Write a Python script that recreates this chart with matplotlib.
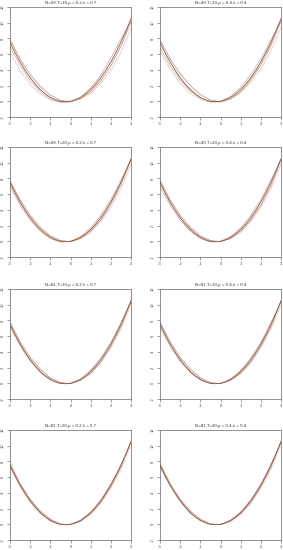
import matplotlib
matplotlib.use("Agg")
import matplotlib.pyplot as plt

plt.rcParams['font.family'] = ['Liberation Sans', 'DejaVu Sans']

titles = [
    "N=49,T=10,\u03c1 = 0.2,\u03bb = 0.7", "N=49,T=10,\u03c1 = 0.4,\u03bb = 0.4",
    "N=49,T=20,\u03c1 = 0.2,\u03bb = 0.7", "N=49,T=20,\u03c1 = 0.4,\u03bb = 0.4",
    "N=81,T=10,\u03c1 = 0.2,\u03bb = 0.7", "N=81,T=10,\u03c1 = 0.4,\u03bb = 0.4",
    "N=81,T=20,\u03c1 = 0.2,\u03bb = 0.7", "N=81,T=20,\u03c1 = 0.4,\u03bb = 0.4",
]

x_true = [-3, -2.75, -2.5, -2.25, -2, -1.75, -1.5, -1.25, -1, -0.75, -0.5, -0.25,
          0, 0.25, 0.5, 0.75, 1, 1.25, 1.5, 1.75, 2, 2.25, 2.5, 2.75, 3]
y_true = [7.5, 6.19, 5.0, 3.94, 3.0, 2.19, 1.5, 0.94, 0.5, 0.19, 0.0, -0.06,
          0.0, 0.19, 0.5, 0.94, 1.5, 2.19, 3.0, 3.94, 5.0, 6.19, 7.5, 8.94, 10.5]

x_est = [-3, -2.5, -2, -1.5, -1, -0.5, 0, 0.5, 1, 1.5, 2, 2.5, 3]

est_a = [
    [7.9, 5.4, 3.4, 1.9, 0.8, 0.1, -0.05, 0.35, 1.2, 2.6, 4.5, 7.0, 10.1],
    [7.8, 5.4, 3.5, 2.0, 0.85, 0.15, -0.05, 0.3, 1.2, 2.7, 4.6, 7.1, 10.2],
    [7.7, 5.3, 3.3, 1.8, 0.7, 0.1, -0.05, 0.4, 1.3, 2.7, 4.7, 7.2, 10.3],
    [7.8, 5.3, 3.3, 1.8, 0.7, 0.1, -0.05, 0.4, 1.3, 2.7, 4.6, 7.1, 10.3],
    [7.8, 5.3, 3.3, 1.8, 0.7, 0.1, -0.05, 0.4, 1.3, 2.7, 4.7, 7.2, 10.4],
    [7.8, 5.3, 3.3, 1.8, 0.7, 0.1, -0.05, 0.4, 1.3, 2.7, 4.7, 7.2, 10.4],
    [7.8, 5.2, 3.2, 1.7, 0.65, 0.05, -0.05, 0.4, 1.35, 2.8, 4.8, 7.3, 10.6],
    [7.8, 5.2, 3.2, 1.7, 0.65, 0.05, -0.05, 0.4, 1.35, 2.8, 4.8, 7.3, 10.6],
]
est_b = [
    [6.9, 4.6, 2.6, 1.2, 0.3, -0.1, -0.05, 0.5, 1.7, 3.3, 5.5, 7.9, 10.3],
    [6.9, 4.5, 2.7, 1.3, 0.4, -0.05, 0.0, 0.6, 1.8, 3.4, 5.4, 7.8, 10.2],
    [7.0, 4.6, 2.7, 1.3, 0.35, -0.1, 0.0, 0.6, 1.7, 3.3, 5.3, 7.8, 10.4],
    [6.9, 4.6, 2.7, 1.3, 0.35, -0.1, 0.0, 0.6, 1.7, 3.3, 5.3, 7.8, 10.4],
    [7.2, 4.8, 2.8, 1.4, 0.4, -0.05, 0.0, 0.55, 1.65, 3.2, 5.2, 7.7, 10.5],
    [7.1, 4.7, 2.8, 1.4, 0.4, -0.05, 0.0, 0.55, 1.65, 3.2, 5.2, 7.7, 10.4],
    [7.3, 4.8, 2.8, 1.4, 0.4, -0.05, 0.0, 0.5, 1.55, 3.1, 5.1, 7.6, 10.4],
    [7.3, 4.9, 2.9, 1.4, 0.45, 0.0, 0.0, 0.5, 1.55, 3.1, 5.1, 7.6, 10.4],
]
est_c = [
    [6.3, 3.9, 2.1, 0.9, 0.2, -0.15, -0.1, 0.3, 1.0, 2.3, 3.9, 6.2, 9.3],
    [6.4, 4.1, 2.3, 1.0, 0.25, -0.1, -0.1, 0.3, 1.1, 2.4, 4.1, 6.4, 9.4],
    [7.2, 4.9, 3.0, 1.6, 0.55, 0.0, -0.05, 0.3, 1.1, 2.5, 4.3, 6.7, 9.7],
    [7.3, 4.9, 3.0, 1.6, 0.55, 0.0, -0.05, 0.3, 1.1, 2.5, 4.3, 6.7, 9.8],
    [7.5, 5.0, 3.0, 1.5, 0.5, 0.0, -0.05, 0.35, 1.2, 2.6, 4.5, 6.9, 10.0],
    [7.4, 5.0, 3.0, 1.5, 0.5, 0.0, -0.05, 0.35, 1.2, 2.6, 4.5, 6.9, 9.9],
    [7.5, 5.0, 3.0, 1.5, 0.5, 0.0, -0.05, 0.35, 1.25, 2.65, 4.6, 7.0, 10.1],
    [7.5, 5.0, 3.0, 1.5, 0.5, 0.0, -0.05, 0.35, 1.25, 2.65, 4.6, 7.0, 10.1],
]

x_ticks = [-3, -2, -1, 0, 1, 2, 3]
y_ticks = [-2, 0, 2, 4, 6, 8, 10, 12]

W, H = 283, 550
fig = plt.figure(figsize=(W / 100, H / 100), dpi=100)

col_left = [10, 160]
box_w = 121
row_top = [7, 147, 289, 430]
box_h = 110

for i, title in enumerate(titles):
    r, c = divmod(i, 2)
    left = col_left[c] / W
    bottom = 1 - (row_top[r] + box_h) / H
    ax = fig.add_axes([left, bottom, box_w / W, box_h / H])
    ax.plot(x_est, est_c[i], color="#e2c4ba", lw=0.5)
    ax.plot(x_est, est_b[i], color="#d0aa9c", lw=0.5)
    ax.plot(x_est, est_a[i], color="#b88a7a", lw=0.5)
    ax.plot(x_true, y_true, color="#86584a", lw=0.6)
    ax.set_xlim(-3, 3)
    ax.set_ylim(-2, 12)
    ax.set_xticks(x_ticks)
    ax.set_yticks(y_ticks)
    ax.set_xticklabels([str(v) for v in x_ticks])
    ax.set_yticklabels([str(v) for v in y_ticks], rotation=90, va="center")
    ax.tick_params(axis="both", labelsize=3, length=2, width=0.4, pad=1.5,
                   colors="#555555", labelcolor="#444444")
    for s in ax.spines.values():
        s.set_linewidth(0.5)
        s.set_color("#666666")
    ax.set_title(title, fontsize=3.2, pad=2, color="#333333")

fig.savefig("out.png", dpi=100)
